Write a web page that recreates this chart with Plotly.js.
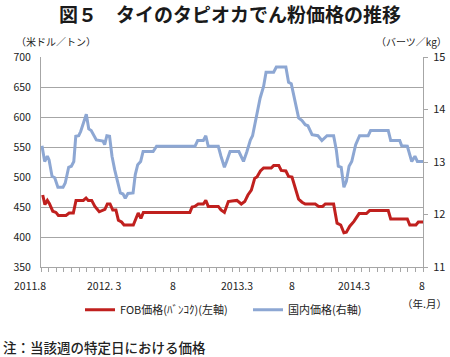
<!DOCTYPE html>
<html>
<head>
<meta charset="utf-8">
<script src="https://cdn.plot.ly/plotly-3.0.1.min.js"></script>
<style>
  html, body { margin: 0; padding: 0; background: #fff; }
  #chart { width: 450px; height: 357px; }
</style>
</head>
<body>
<div id="chart"></div>
<script>
// ---- Data (x = weeks since Aug 2011) ----
const weeksFOB = [0.7, 1.6, 2.6, 3.4, 4.8, 6.1, 7.1, 10.2, 11.5, 13.2, 14.3, 17.3, 18.4, 19.3, 20.7, 22.0, 23.8, 25.2, 26.1, 27.1, 28.2, 29.3, 30.6, 31.6, 32.9, 33.9, 37.7, 39.7, 40.8, 41.8, 60.8, 61.7, 62.8, 64.2, 66.3, 67.3, 68.3, 72.4, 73.5, 74.9, 76.5, 78.0, 80.0, 81.8, 83.2, 84.5, 85.9, 87.3, 88.2, 89.6, 90.9, 94.0, 95.0, 97.1, 98.1, 100.0, 101.1, 102.5, 103.8, 105.2, 106.6, 107.9, 112.0, 113.4, 115.0, 116.1, 119.5, 120.9, 122.4, 123.7, 124.7, 126.1, 127.8, 129.9, 132.9, 134.2, 141.8, 142.8, 149.6, 150.6, 153.1, 154.1, 156.0];
const usdFOB = [470, 454, 461, 456, 443, 441, 436, 436, 440, 440, 461, 461, 465, 461, 461, 451, 442, 445, 446, 455, 455, 445, 445, 428, 425, 420, 420, 440, 431, 441, 441, 450, 451, 455, 455, 461, 451, 451, 445, 441, 459, 460, 461, 455, 459, 470, 478, 498, 500, 510, 515, 515, 519, 519, 511, 510, 501, 500, 480, 463, 458, 455, 455, 451, 451, 455, 455, 423, 420, 407, 408, 418, 426, 439, 439, 444, 444, 430, 430, 420, 420, 425, 425];

const weeksDomestic = [0.4, 1.5, 2.6, 3.3, 4.5, 5.6, 6.9, 9.0, 9.9, 11.3, 12.4, 13.4, 14.2, 15.4, 16.2, 17.4, 18.5, 19.5, 20.5, 22.6, 24.0, 25.3, 26.0, 26.9, 28.0, 29.0, 30.1, 31.4, 32.4, 33.5, 34.4, 35.5, 37.6, 38.5, 39.5, 40.7, 41.7, 45.8, 47.2, 62.9, 64.0, 66.3, 67.3, 68.3, 72.4, 73.5, 74.9, 75.8, 77.2, 80.8, 82.7, 84.1, 85.5, 86.4, 88.2, 89.5, 90.9, 91.9, 95.0, 96.1, 100.0, 101.1, 102.2, 103.8, 105.2, 106.6, 107.9, 109.0, 110.7, 113.1, 114.7, 116.8, 119.5, 120.6, 121.4, 122.6, 123.7, 124.7, 125.8, 126.9, 128.5, 130.1, 133.6, 134.6, 141.8, 142.8, 146.5, 147.3, 149.6, 151.4, 152.7, 153.7, 156.0];
const bahtDomestic = [13.31, 13.01, 13.11, 13.04, 12.73, 12.70, 12.52, 12.52, 12.60, 12.90, 12.92, 13.01, 13.49, 13.50, 13.58, 13.77, 13.91, 13.63, 13.60, 13.42, 13.41, 13.40, 13.33, 13.50, 13.49, 13.11, 12.85, 12.60, 12.41, 12.39, 12.31, 12.40, 12.41, 12.76, 12.95, 13.01, 13.20, 13.20, 13.30, 13.30, 13.41, 13.41, 13.50, 13.30, 13.30, 13.11, 12.90, 13.01, 13.20, 13.20, 13.01, 13.20, 13.42, 13.50, 13.93, 14.22, 14.44, 14.71, 14.71, 14.81, 14.81, 14.52, 14.49, 14.12, 13.84, 13.79, 13.71, 13.69, 13.52, 13.50, 13.41, 13.50, 13.50, 13.23, 12.92, 12.90, 12.52, 12.63, 12.92, 13.01, 13.33, 13.50, 13.50, 13.60, 13.60, 13.41, 13.41, 13.31, 13.30, 13.01, 13.11, 13.01, 13.01];

const xTickLabels = ['2011.8', '2012. 3', '8', '2013.3', '8', '2014.3', '8'];
const xTickWeeks = [-4.5, 26, 54, 80, 102.5, 128, 155.6];

const seriesNames = ['FOB価格(ﾊﾞﾝｺｸ)(左軸)', '国内価格(右軸)'];
const titleText = '図５　タイのタピオカでん粉価格の推移';
const leftUnit = '（米ドル／トン）';
const rightUnit = '（バーツ／kg）';
const xUnit = '（年.月）';
const footnote = '注：当該週の特定日における価格';

// ---- Layout helpers ----
const W = 450, H = 357;
const L = 41, R = 423, T = 57.3, B = 267.3;
const xRange = [0, 156];
const FONT = '"Noto Sans CJK JP", "Noto Sans", sans-serif';
const GRID = '#A6A6A6';
const px2paperY = py => (B - py) / (B - T);
const px2paperX = px => (px - L) / (R - L);
const week2paperX = w => (w - xRange[0]) / (xRange[1] - xRange[0]);

const annotations = [];
xTickLabels.forEach((t, i) => {
  annotations.push({
    text: t, xref: 'paper', yref: 'paper',
    x: week2paperX(xTickWeeks[i]), y: px2paperY(285.5),
    xanchor: 'center', yanchor: 'middle', showarrow: false,
    font: {family: FONT, size: 10.5, color: '#222'}
  });
});
annotations.push({text: leftUnit, xref: 'paper', yref: 'paper', x: px2paperX(14), y: px2paperY(42),
  xanchor: 'left', yanchor: 'middle', showarrow: false, font: {family: FONT, size: 10, color: '#222'}});
annotations.push({text: rightUnit, xref: 'paper', yref: 'paper', x: px2paperX(449), y: px2paperY(42),
  xanchor: 'right', yanchor: 'middle', showarrow: false, font: {family: FONT, size: 10, color: '#222'}});
annotations.push({text: xUnit, xref: 'paper', yref: 'paper', x: px2paperX(449), y: px2paperY(304),
  xanchor: 'right', yanchor: 'middle', showarrow: false, font: {family: FONT, size: 10.5, color: '#222'}});
annotations.push({text: footnote, xref: 'paper', yref: 'paper', x: px2paperX(1), y: px2paperY(347.5),
  xanchor: 'left', yanchor: 'middle', showarrow: false, font: {family: FONT, size: 13.5, color: '#222', weight: 500}});

const traces = [
  {x: weeksFOB, y: usdFOB, name: seriesNames[0], yaxis: 'y', type: 'scatter', mode: 'lines',
   line: {color: '#C0201E', width: 3}},
  {x: weeksDomestic, y: bahtDomestic, name: seriesNames[1], yaxis: 'y2', type: 'scatter', mode: 'lines',
   line: {color: '#8DA7D3', width: 3}}
];

const layout = {
  width: W, height: H,
  margin: {l: L, r: W - R, t: T, b: H - B, pad: 0},
  paper_bgcolor: '#fff', plot_bgcolor: '#fff',
  font: {family: FONT, color: '#222'},
  title: {text: titleText, xref: 'container', yref: 'container', x: 0.511, y: 1 - 15.5 / H,
          xanchor: 'center', yanchor: 'middle',
          font: {family: FONT, size: 19, color: '#1a1a1a', weight: 700}},
  showlegend: true,
  legend: {orientation: 'h', xref: 'paper', yref: 'paper', x: px2paperX(80), y: px2paperY(310),
           xanchor: 'left', yanchor: 'middle', itemwidth: 30, entrywidth: 123,
           font: {family: FONT, size: 11, color: '#222'}, bgcolor: 'rgba(0,0,0,0)'},
  xaxis: {range: xRange, showgrid: false, zeroline: false, showline: true, linecolor: GRID, linewidth: 1,
          ticks: 'outside', ticklen: 4, tickcolor: GRID, tickwidth: 1, tickmode: 'linear', tick0: 0, dtick: 3.12,
          showticklabels: false, fixedrange: true},
  yaxis: {range: [350, 700], dtick: 50, tick0: 350, showgrid: true, gridcolor: GRID, gridwidth: 1, zeroline: false,
          showline: true, linecolor: GRID, linewidth: 1, ticks: '', ticklabelstandoff: 7,
          tickfont: {family: FONT, size: 10.5, color: '#222'}},
  yaxis2: {range: [11, 15], dtick: 1, tick0: 11, overlaying: 'y', side: 'right', showgrid: false, zeroline: false,
           showline: true, linecolor: GRID, linewidth: 1, ticks: 'outside', ticklen: 4, tickcolor: GRID,
           ticklabelstandoff: 3, tickfont: {family: FONT, size: 11, color: '#222'}},
  annotations: annotations
};

Plotly.newPlot('chart', traces, layout, {staticPlot: true, displayModeBar: false});
</script>
</body>
</html>
